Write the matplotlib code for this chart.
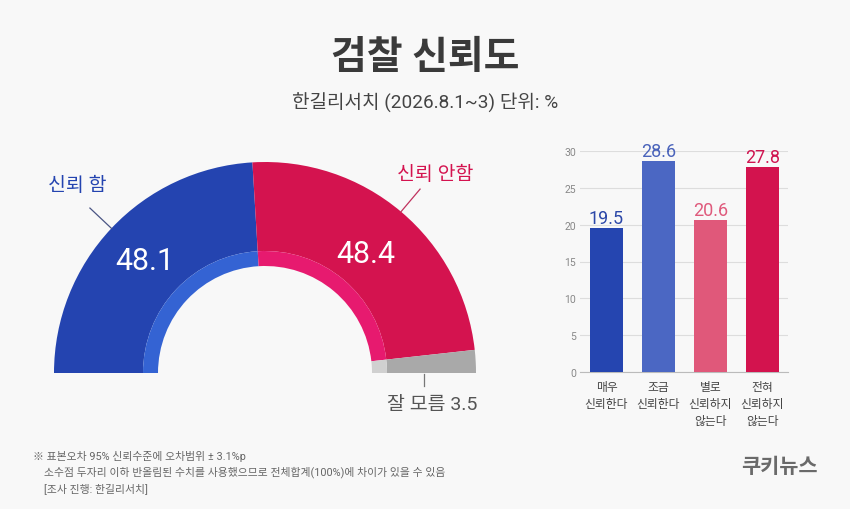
import numpy as np
import matplotlib
matplotlib.use("Agg")
import matplotlib.pyplot as plt

W, H = 850, 510
BG = "#f8f8f8"
FONT = ["Roboto", "Noto Sans CJK KR", "DejaVu Sans"]
plt.rcParams["font.family"] = FONT

# half-donut data
groups = ["신뢰 함", "신뢰 안함", "잘 모름"]
group_values = [48.1, 48.4, 3.5]
group_colors = ["#2444b0", "#d4134f", "#a9a9a9"]
inner_colors = ["#3463d3", "#e71a6f", "#d0d0d0"]

# bar data
answers = ["매우\n신뢰한다", "조금\n신뢰한다", "별로\n신뢰하지\n않는다", "전혀\n신뢰하지\n않는다"]
answer_values = [19.5, 28.6, 20.6, 27.8]
answer_colors = ["#2545b0", "#4b67c3", "#e0587a", "#d3134e"]
label_colors = ["#2c48a8", "#4a63bb", "#df5a7c", "#d01450"]
yticks = [0, 5, 10, 15, 20, 25, 30]

notes = [
    "※ 표본오차 95% 신뢰수준에 오차범위 ± 3.1%p",
    "    소수점 두자리 이하 반올림된 수치를 사용했으므로 전체합계(100%)에 차이가 있을 수 있음",
    "    [조사 진행: 한길리서치]",
]


def fx(x):
    return x / W


def fy(y):
    return 1 - y / H


fig = plt.figure(figsize=(W / 100, H / 100), dpi=100, facecolor=BG)

fig.text(fx(425), fy(58), "검찰 신뢰도", ha="center", va="center",
         fontsize=28, fontweight="bold", color="#3a3a3a")
fig.text(fx(425), fy(103), "한길리서치 (2026.8.1~3) 단위: %", ha="center", va="center",
         fontsize=13.7, color="#444444")

# ---- half donut ----
R = 211.0
ax = fig.add_axes([fx(35), fy(400), 460 / W, 260 / H])
vals = group_values + [sum(group_values)]
ax.pie(vals, colors=group_colors + ["none"], startangle=180, counterclock=False,
       radius=1.0, wedgeprops={"width": 89 / R, "linewidth": 0})
ax.pie(vals, colors=inner_colors + ["none"], startangle=180, counterclock=False,
       radius=122 / R, wedgeprops={"width": 15 / R, "linewidth": 0})
ax.set_xlim(-230 / R, 230 / R)
ax.set_ylim(-26 / R, 234 / R)
ax.set_axis_off()

total = sum(vals)
cum = np.cumsum([0] + group_values)
mids = [180 - 360 * (cum[i] + v / 2) / total for i, v in enumerate(group_values)]


def polar(r, deg):
    t = np.radians(deg)
    return r * np.cos(t), r * np.sin(t)


# values inside the band
for i, rr in [(0, 0.78), (1, 0.74)]:
    x, y = polar(rr, mids[i])
    ax.text(x, y, f"{group_values[i]}", ha="center", va="center",
            fontsize=22, color="white")

# leader lines + labels
leader_colors = ["#4a5584", "#c0325e"]
for i in range(2):
    x0, y0 = polar(1.0, mids[i])
    x1, y1 = polar(1.14, mids[i])
    ax.plot([x0, x1], [y0, y1], color=leader_colors[i], lw=0.9)
ax.text(-188 / R, 188 / R, groups[0], ha="center", va="center",
        fontsize=14, color=group_colors[0])
ax.text(170 / R, 199 / R, groups[1], ha="center", va="center",
        fontsize=14, color=group_colors[1])
ax.plot([159 / R, 159 / R], [-1 / R, -13 / R], color="#777777", lw=0.9, clip_on=False)
ax.text(167 / R, -31 / R, f"{groups[2]} {group_values[2]}", ha="center", va="center",
        fontsize=14, color="#555555")

# ---- bar chart ----
bx = fig.add_axes([fx(580), fy(373), 208 / W, 221 / H])
bx.set_facecolor(BG)
xpos = np.arange(len(answers))
bars = bx.bar(xpos, answer_values, width=0.63, color=answer_colors, zorder=3)
bx.set_xlim(-0.51, 3.49)
bx.set_ylim(0, 30)
bx.set_yticks(yticks)
bx.set_xticks(xpos)
bx.set_xticklabels(answers, fontsize=8.5, color="#444444", linespacing=1.4)
bx.grid(axis="y", color="#dddddd", lw=0.8, zorder=0)
for side in ["top", "right", "left"]:
    bx.spines[side].set_visible(False)
bx.spines["bottom"].set_color("#bbbbbb")
bx.tick_params(axis="y", length=0, labelsize=7.5, labelcolor="#888888", pad=3)
bx.tick_params(axis="x", length=0, pad=6)
for b, v, c in zip(bars, answer_values, label_colors):
    bx.annotate(f"{v}", (b.get_x() + b.get_width() / 2, v), xytext=(0, 1),
                textcoords="offset points", ha="center", va="bottom",
                fontsize=13, color=c, annotation_clip=False)

# ---- footnotes + logo ----
for k, line in enumerate(notes):
    fig.text(fx(33), fy(456 + 16.5 * k), line, ha="left", va="center",
             fontsize=7.8, color="#666666")
fig.text(fx(779), fy(467), "쿠키뉴스", ha="center", va="center",
         fontsize=15, fontweight="bold", color="#6a6a6a")

fig.savefig("out.png", dpi=100, facecolor=BG)
